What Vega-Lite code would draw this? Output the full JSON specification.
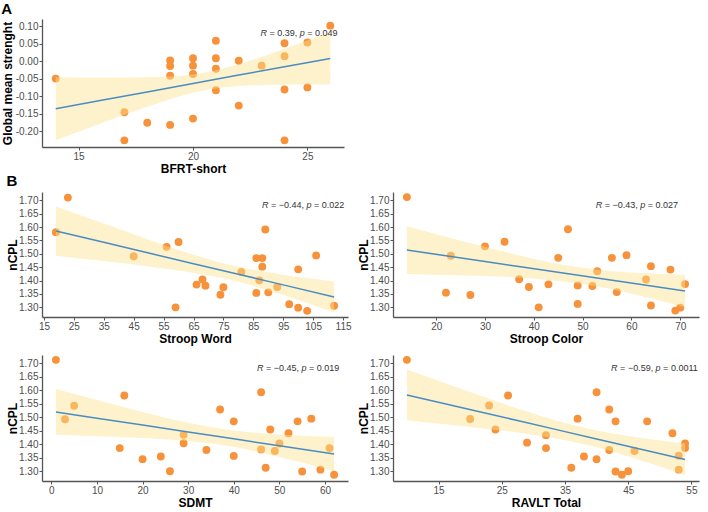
{
  "$schema": "https://vega.github.io/schema/vega-lite/v6.json",
  "padding": {"left": 1, "top": 2, "right": 2, "bottom": 2},
  "background": "white",
  "datasets": {
    "a_pts": [
      {"x":14,"y":-0.05},{"x":17,"y":-0.146},{"x":17,"y":-0.226},{"x":18,"y":-0.176},
      {"x":19,"y":0.002},{"x":19,"y":-0.014},{"x":19,"y":-0.042},{"x":19,"y":-0.182},
      {"x":20,"y":0.008},{"x":20,"y":-0.013},{"x":20,"y":-0.037},{"x":20,"y":-0.164},
      {"x":21,"y":0.058},{"x":21,"y":0.008},{"x":21,"y":-0.022},{"x":21,"y":-0.083},
      {"x":22,"y":0.001},{"x":22,"y":-0.127},{"x":23,"y":-0.013},
      {"x":24,"y":0.051},{"x":24,"y":0.014},{"x":24,"y":-0.081},{"x":24,"y":-0.226},
      {"x":25,"y":0.053},{"x":25,"y":-0.075},{"x":26,"y":0.101}
    ],
    "a_fit": [
      {"x":14,"fit":-0.136,"lo":-0.226,"hi":-0.046},
      {"x":16,"fit":-0.112,"lo":-0.177,"hi":-0.047},
      {"x":18,"fit":-0.088,"lo":-0.130,"hi":-0.046},
      {"x":20,"fit":-0.064,"lo":-0.090,"hi":-0.038},
      {"x":22,"fit":-0.040,"lo":-0.071,"hi":-0.009},
      {"x":24,"fit":-0.016,"lo":-0.067,"hi":0.035},
      {"x":26,"fit":0.0075,"lo":-0.067,"hi":0.082}
    ],
    "a_txt": [{"x":22.95,"y":0.079,"r_rest":"= 0.39,","p_rest":"= 0.049"}],
    "b1_pts": [
      {"x":19,"y":1.581},{"x":23,"y":1.71},{"x":45,"y":1.491},{"x":56,"y":1.526},
      {"x":60,"y":1.544},{"x":59,"y":1.30},{"x":66,"y":1.385},{"x":68,"y":1.404},
      {"x":69,"y":1.381},{"x":74,"y":1.347},{"x":75,"y":1.375},{"x":81,"y":1.432},
      {"x":86,"y":1.484},{"x":86,"y":1.354},{"x":87,"y":1.401},{"x":88,"y":1.484},
      {"x":88,"y":1.452},{"x":89,"y":1.591},{"x":90,"y":1.356},{"x":93,"y":1.376},
      {"x":97,"y":1.312},{"x":100,"y":1.442},{"x":100,"y":1.299},{"x":103,"y":1.287},
      {"x":106,"y":1.494},{"x":112,"y":1.306}
    ],
    "b1_fit": [
      {"x":19,"fit":1.585,"lo":1.493,"hi":1.677},
      {"x":35,"fit":1.543,"lo":1.473,"hi":1.613},
      {"x":50,"fit":1.503,"lo":1.453,"hi":1.553},
      {"x":65,"fit":1.463,"lo":1.429,"hi":1.497},
      {"x":80,"fit":1.424,"lo":1.396,"hi":1.452},
      {"x":95,"fit":1.384,"lo":1.346,"hi":1.422},
      {"x":112,"fit":1.339,"lo":1.281,"hi":1.397}
    ],
    "b1_txt": [{"x":87.9,"y":1.681,"r_rest":"= −0.44,","p_rest":"= 0.022"}],
    "b2_pts": [
      {"x":14,"y":1.712},{"x":22,"y":1.355},{"x":23,"y":1.493},{"x":27,"y":1.346},
      {"x":30,"y":1.528},{"x":34,"y":1.545},{"x":37,"y":1.405},{"x":39,"y":1.376},
      {"x":41,"y":1.30},{"x":43,"y":1.386},{"x":45,"y":1.485},{"x":47,"y":1.592},
      {"x":49,"y":1.382},{"x":49,"y":1.313},{"x":52,"y":1.380},{"x":53,"y":1.435},
      {"x":56,"y":1.485},{"x":57,"y":1.357},{"x":59,"y":1.495},{"x":63,"y":1.404},
      {"x":64,"y":1.454},{"x":64,"y":1.307},{"x":68,"y":1.441},{"x":69,"y":1.288},
      {"x":70,"y":1.299},{"x":71,"y":1.387}
    ],
    "b2_fit": [
      {"x":14,"fit":1.514,"lo":1.425,"hi":1.603},
      {"x":22,"fit":1.4925,"lo":1.421,"hi":1.564},
      {"x":30,"fit":1.471,"lo":1.417,"hi":1.526},
      {"x":38,"fit":1.450,"lo":1.410,"hi":1.490},
      {"x":46,"fit":1.428,"lo":1.397,"hi":1.459},
      {"x":54,"fit":1.407,"lo":1.375,"hi":1.439},
      {"x":62,"fit":1.385,"lo":1.342,"hi":1.428},
      {"x":71,"fit":1.361,"lo":1.300,"hi":1.422}
    ],
    "b2_txt": [{"x":52.7,"y":1.684,"r_rest":"= −0.43,","p_rest":"= 0.027"}],
    "b3_pts": [
      {"x":1,"y":1.713},{"x":3,"y":1.493},{"x":5,"y":1.543},{"x":15,"y":1.386},
      {"x":16,"y":1.581},{"x":20,"y":1.345},{"x":24,"y":1.355},{"x":26,"y":1.30},
      {"x":29,"y":1.435},{"x":29,"y":1.404},{"x":34,"y":1.379},{"x":37,"y":1.529},
      {"x":40,"y":1.485},{"x":40,"y":1.357},{"x":46,"y":1.593},{"x":46,"y":1.381},
      {"x":47,"y":1.313},{"x":48,"y":1.455},{"x":49,"y":1.375},{"x":50,"y":1.403},
      {"x":52,"y":1.441},{"x":54,"y":1.485},{"x":55,"y":1.299},{"x":57,"y":1.495},
      {"x":59,"y":1.306},{"x":61,"y":1.386},{"x":62,"y":1.287}
    ],
    "b3_fit": [
      {"x":1,"fit":1.520,"lo":1.435,"hi":1.605},
      {"x":10,"fit":1.497,"lo":1.430,"hi":1.564},
      {"x":20,"fit":1.4714,"lo":1.423,"hi":1.520},
      {"x":30,"fit":1.4458,"lo":1.412,"hi":1.480},
      {"x":40,"fit":1.4203,"lo":1.390,"hi":1.451},
      {"x":50,"fit":1.3947,"lo":1.353,"hi":1.436},
      {"x":62,"fit":1.364,"lo":1.301,"hi":1.427}
    ],
    "b3_txt": [{"x":45.1,"y":1.683,"r_rest":"= −0.45,","p_rest":"= 0.019"}],
    "b4_pts": [
      {"x":10,"y":1.713},{"x":20,"y":1.494},{"x":23,"y":1.544},{"x":24,"y":1.455},
      {"x":26,"y":1.581},{"x":29,"y":1.406},{"x":32,"y":1.434},{"x":32,"y":1.386},
      {"x":36,"y":1.313},{"x":37,"y":1.495},{"x":38,"y":1.355},{"x":40,"y":1.593},
      {"x":40,"y":1.345},{"x":42,"y":1.529},{"x":42,"y":1.379},{"x":43,"y":1.485},
      {"x":43,"y":1.299},{"x":44,"y":1.287},{"x":45,"y":1.30},{"x":46,"y":1.375},
      {"x":48,"y":1.485},{"x":52,"y":1.441},{"x":53,"y":1.358},{"x":53,"y":1.306},
      {"x":54,"y":1.403},{"x":54,"y":1.386}
    ],
    "b4_fit": [
      {"x":10,"fit":1.583,"lo":1.489,"hi":1.677},
      {"x":16,"fit":1.5504,"lo":1.474,"hi":1.627},
      {"x":22,"fit":1.5178,"lo":1.459,"hi":1.577},
      {"x":28,"fit":1.4852,"lo":1.442,"hi":1.529},
      {"x":34,"fit":1.4526,"lo":1.420,"hi":1.485},
      {"x":40,"fit":1.420,"lo":1.389,"hi":1.451},
      {"x":46,"fit":1.3874,"lo":1.348,"hi":1.427},
      {"x":54,"fit":1.344,"lo":1.285,"hi":1.403}
    ],
    "b4_txt": [{"x":42.3,"y":1.683,"r_rest":"= −0.59,","p_rest":"= 0.0011"}]
  },
  "vconcat": [
    {
      "title": {"text": "A", "offset": 2},
      "width": 302,
      "height": 128,
      "layer": [
        {"data": {"name": "a_pts"}, "mark": {"type": "circle", "size": 62, "color": "#F7923A", "opacity": 1},
         "encoding": {
           "x": {"field": "x", "type": "quantitative", "title": "BFRT-short", "scale": {"domain": [13.4, 26.6], "nice": false, "zero": false}, "axis": {"values": [15, 20, 25], "tickCount": 30, "format": "d"}},
           "y": {"field": "y", "type": "quantitative", "title": "Global mean strenght", "scale": {"domain": [-0.245, 0.12], "nice": false, "zero": false}, "axis": {"values": [-0.2, -0.15, -0.1, -0.05, 0, 0.05, 0.1], "tickCount": 30, "labelExpr": "replace(format(datum.value, '.2f'), '\u2212', '-')", "titlePadding": 1}}
         }},
        {"data": {"name": "a_fit"}, "mark": {"type": "area", "color": "#FBE38E", "opacity": 0.45, "interpolate": "monotone"},
         "encoding": {"x": {"field": "x", "type": "quantitative", "title": "BFRT-short"}, "y": {"field": "lo", "type": "quantitative", "title": "Global mean strenght"}, "y2": {"field": "hi"}}},
        {"data": {"name": "a_fit"}, "mark": {"type": "line", "color": "#4A8CC2", "strokeWidth": 1.5},
         "encoding": {"x": {"field": "x", "type": "quantitative", "title": "BFRT-short"}, "y": {"field": "fit", "type": "quantitative", "title": "Global mean strenght"}}},
        {"data": {"name": "a_txt"}, "mark": {"type": "text", "align": "left", "baseline": "middle", "fontSize": 9, "color": "#333333", "fontStyle": "italic"},
         "encoding": {"x": {"field": "x", "type": "quantitative", "title": "BFRT-short"}, "y": {"field": "y", "type": "quantitative", "title": "Global mean strenght"}, "text": {"value": "R"}}},
        {"data": {"name": "a_txt"}, "mark": {"type": "text", "align": "left", "baseline": "middle", "fontSize": 9, "color": "#333333", "dx": 9},
         "encoding": {"x": {"field": "x", "type": "quantitative", "title": "BFRT-short"}, "y": {"field": "y", "type": "quantitative", "title": "Global mean strenght"}, "text": {"field": "r_rest"}}},
        {"data": {"name": "a_txt"}, "mark": {"type": "text", "align": "left", "baseline": "middle", "fontSize": 9, "color": "#333333", "fontStyle": "italic", "dx": 39.3},
         "encoding": {"x": {"field": "x", "type": "quantitative", "title": "BFRT-short"}, "y": {"field": "y", "type": "quantitative", "title": "Global mean strenght"}, "text": {"value": "p"}}},
        {"data": {"name": "a_txt"}, "mark": {"type": "text", "align": "left", "baseline": "middle", "fontSize": 9, "color": "#333333", "dx": 46.8},
         "encoding": {"x": {"field": "x", "type": "quantitative", "title": "BFRT-short"}, "y": {"field": "y", "type": "quantitative", "title": "Global mean strenght"}, "text": {"field": "p_rest"}}}
      ]
    },
    {
      "title": {"text": "B", "offset": 3},
      "columns": 2,
      "spacing": {"row": 11, "column": 5},
      "concat": [
        {
          "width": 306, "height": 125,
          "layer": [
            {"data": {"name": "b1_pts"}, "mark": {"type": "circle", "size": 62, "color": "#F7923A", "opacity": 1},
             "encoding": {
               "x": {"field": "x", "type": "quantitative", "title": "Stroop Word", "scale": {"domain": [14.35, 116.65], "nice": false, "zero": false}, "axis": {"values": [15, 25, 35, 45, 55, 65, 75, 85, 95, 105, 115], "tickCount": 30, "format": "d"}},
               "y": {"field": "y", "type": "quantitative", "title": "nCPL", "scale": {"domain": [1.264, 1.731], "nice": false, "zero": false}, "axis": {"values": [1.3, 1.35, 1.4, 1.45, 1.5, 1.55, 1.6, 1.65, 1.7], "tickCount": 30, "format": ".2f", "titlePadding": -1}}
             }},
            {"data": {"name": "b1_fit"}, "mark": {"type": "area", "color": "#FBE38E", "opacity": 0.45, "interpolate": "monotone"},
             "encoding": {"x": {"field": "x", "type": "quantitative", "title": "Stroop Word"}, "y": {"field": "lo", "type": "quantitative", "title": "nCPL"}, "y2": {"field": "hi"}}},
            {"data": {"name": "b1_fit"}, "mark": {"type": "line", "color": "#4A8CC2", "strokeWidth": 1.5},
             "encoding": {"x": {"field": "x", "type": "quantitative", "title": "Stroop Word"}, "y": {"field": "fit", "type": "quantitative", "title": "nCPL"}}},
            {"data": {"name": "b1_txt"}, "mark": {"type": "text", "align": "left", "baseline": "middle", "fontSize": 9, "color": "#333333", "fontStyle": "italic"},
             "encoding": {"x": {"field": "x", "type": "quantitative", "title": "Stroop Word"}, "y": {"field": "y", "type": "quantitative", "title": "nCPL"}, "text": {"value": "R"}}},
            {"data": {"name": "b1_txt"}, "mark": {"type": "text", "align": "left", "baseline": "middle", "fontSize": 9, "color": "#333333", "dx": 9},
             "encoding": {"x": {"field": "x", "type": "quantitative", "title": "Stroop Word"}, "y": {"field": "y", "type": "quantitative", "title": "nCPL"}, "text": {"field": "r_rest"}}},
            {"data": {"name": "b1_txt"}, "mark": {"type": "text", "align": "left", "baseline": "middle", "fontSize": 9, "color": "#333333", "fontStyle": "italic", "dx": 44.5},
             "encoding": {"x": {"field": "x", "type": "quantitative", "title": "Stroop Word"}, "y": {"field": "y", "type": "quantitative", "title": "nCPL"}, "text": {"value": "p"}}},
            {"data": {"name": "b1_txt"}, "mark": {"type": "text", "align": "left", "baseline": "middle", "fontSize": 9, "color": "#333333", "dx": 52},
             "encoding": {"x": {"field": "x", "type": "quantitative", "title": "Stroop Word"}, "y": {"field": "y", "type": "quantitative", "title": "nCPL"}, "text": {"field": "p_rest"}}}
          ]
        },
        {
          "width": 306, "height": 125,
          "layer": [
            {"data": {"name": "b2_pts"}, "mark": {"type": "circle", "size": 62, "color": "#F7923A", "opacity": 1},
             "encoding": {
               "x": {"field": "x", "type": "quantitative", "title": "Stroop Color", "scale": {"domain": [11.15, 73.85], "nice": false, "zero": false}, "axis": {"values": [20, 30, 40, 50, 60, 70], "tickCount": 30, "format": "d"}},
               "y": {"field": "y", "type": "quantitative", "title": "nCPL", "scale": {"domain": [1.264, 1.731], "nice": false, "zero": false}, "axis": {"values": [1.3, 1.35, 1.4, 1.45, 1.5, 1.55, 1.6, 1.65, 1.7], "tickCount": 30, "format": ".2f", "titlePadding": -1}}
             }},
            {"data": {"name": "b2_fit"}, "mark": {"type": "area", "color": "#FBE38E", "opacity": 0.45, "interpolate": "monotone"},
             "encoding": {"x": {"field": "x", "type": "quantitative", "title": "Stroop Color"}, "y": {"field": "lo", "type": "quantitative", "title": "nCPL"}, "y2": {"field": "hi"}}},
            {"data": {"name": "b2_fit"}, "mark": {"type": "line", "color": "#4A8CC2", "strokeWidth": 1.5},
             "encoding": {"x": {"field": "x", "type": "quantitative", "title": "Stroop Color"}, "y": {"field": "fit", "type": "quantitative", "title": "nCPL"}}},
            {"data": {"name": "b2_txt"}, "mark": {"type": "text", "align": "left", "baseline": "middle", "fontSize": 9, "color": "#333333", "fontStyle": "italic"},
             "encoding": {"x": {"field": "x", "type": "quantitative", "title": "Stroop Color"}, "y": {"field": "y", "type": "quantitative", "title": "nCPL"}, "text": {"value": "R"}}},
            {"data": {"name": "b2_txt"}, "mark": {"type": "text", "align": "left", "baseline": "middle", "fontSize": 9, "color": "#333333", "dx": 9},
             "encoding": {"x": {"field": "x", "type": "quantitative", "title": "Stroop Color"}, "y": {"field": "y", "type": "quantitative", "title": "nCPL"}, "text": {"field": "r_rest"}}},
            {"data": {"name": "b2_txt"}, "mark": {"type": "text", "align": "left", "baseline": "middle", "fontSize": 9, "color": "#333333", "fontStyle": "italic", "dx": 44.5},
             "encoding": {"x": {"field": "x", "type": "quantitative", "title": "Stroop Color"}, "y": {"field": "y", "type": "quantitative", "title": "nCPL"}, "text": {"value": "p"}}},
            {"data": {"name": "b2_txt"}, "mark": {"type": "text", "align": "left", "baseline": "middle", "fontSize": 9, "color": "#333333", "dx": 52},
             "encoding": {"x": {"field": "x", "type": "quantitative", "title": "Stroop Color"}, "y": {"field": "y", "type": "quantitative", "title": "nCPL"}, "text": {"field": "p_rest"}}}
          ]
        },
        {
          "width": 306, "height": 126,
          "layer": [
            {"data": {"name": "b3_pts"}, "mark": {"type": "circle", "size": 62, "color": "#F7923A", "opacity": 1},
             "encoding": {
               "x": {"field": "x", "type": "quantitative", "title": "SDMT", "scale": {"domain": [-2.05, 65.05], "nice": false, "zero": false}, "axis": {"values": [0, 10, 20, 30, 40, 50, 60], "tickCount": 30, "format": "d"}},
               "y": {"field": "y", "type": "quantitative", "title": "nCPL", "scale": {"domain": [1.264, 1.731], "nice": false, "zero": false}, "axis": {"values": [1.3, 1.35, 1.4, 1.45, 1.5, 1.55, 1.6, 1.65, 1.7], "tickCount": 30, "format": ".2f", "titlePadding": -1}}
             }},
            {"data": {"name": "b3_fit"}, "mark": {"type": "area", "color": "#FBE38E", "opacity": 0.45, "interpolate": "monotone"},
             "encoding": {"x": {"field": "x", "type": "quantitative", "title": "SDMT"}, "y": {"field": "lo", "type": "quantitative", "title": "nCPL"}, "y2": {"field": "hi"}}},
            {"data": {"name": "b3_fit"}, "mark": {"type": "line", "color": "#4A8CC2", "strokeWidth": 1.5},
             "encoding": {"x": {"field": "x", "type": "quantitative", "title": "SDMT"}, "y": {"field": "fit", "type": "quantitative", "title": "nCPL"}}},
            {"data": {"name": "b3_txt"}, "mark": {"type": "text", "align": "left", "baseline": "middle", "fontSize": 9, "color": "#333333", "fontStyle": "italic"},
             "encoding": {"x": {"field": "x", "type": "quantitative", "title": "SDMT"}, "y": {"field": "y", "type": "quantitative", "title": "nCPL"}, "text": {"value": "R"}}},
            {"data": {"name": "b3_txt"}, "mark": {"type": "text", "align": "left", "baseline": "middle", "fontSize": 9, "color": "#333333", "dx": 9},
             "encoding": {"x": {"field": "x", "type": "quantitative", "title": "SDMT"}, "y": {"field": "y", "type": "quantitative", "title": "nCPL"}, "text": {"field": "r_rest"}}},
            {"data": {"name": "b3_txt"}, "mark": {"type": "text", "align": "left", "baseline": "middle", "fontSize": 9, "color": "#333333", "fontStyle": "italic", "dx": 44.5},
             "encoding": {"x": {"field": "x", "type": "quantitative", "title": "SDMT"}, "y": {"field": "y", "type": "quantitative", "title": "nCPL"}, "text": {"value": "p"}}},
            {"data": {"name": "b3_txt"}, "mark": {"type": "text", "align": "left", "baseline": "middle", "fontSize": 9, "color": "#333333", "dx": 52},
             "encoding": {"x": {"field": "x", "type": "quantitative", "title": "SDMT"}, "y": {"field": "y", "type": "quantitative", "title": "nCPL"}, "text": {"field": "p_rest"}}}
          ]
        },
        {
          "width": 306, "height": 126,
          "layer": [
            {"data": {"name": "b4_pts"}, "mark": {"type": "circle", "size": 62, "color": "#F7923A", "opacity": 1},
             "encoding": {
               "x": {"field": "x", "type": "quantitative", "title": "RAVLT Total", "scale": {"domain": [7.8, 56.2], "nice": false, "zero": false}, "axis": {"values": [15, 25, 35, 45, 55], "tickCount": 30, "format": "d"}},
               "y": {"field": "y", "type": "quantitative", "title": "nCPL", "scale": {"domain": [1.264, 1.731], "nice": false, "zero": false}, "axis": {"values": [1.3, 1.35, 1.4, 1.45, 1.5, 1.55, 1.6, 1.65, 1.7], "tickCount": 30, "format": ".2f", "titlePadding": -1}}
             }},
            {"data": {"name": "b4_fit"}, "mark": {"type": "area", "color": "#FBE38E", "opacity": 0.45, "interpolate": "monotone"},
             "encoding": {"x": {"field": "x", "type": "quantitative", "title": "RAVLT Total"}, "y": {"field": "lo", "type": "quantitative", "title": "nCPL"}, "y2": {"field": "hi"}}},
            {"data": {"name": "b4_fit"}, "mark": {"type": "line", "color": "#4A8CC2", "strokeWidth": 1.5},
             "encoding": {"x": {"field": "x", "type": "quantitative", "title": "RAVLT Total"}, "y": {"field": "fit", "type": "quantitative", "title": "nCPL"}}},
            {"data": {"name": "b4_txt"}, "mark": {"type": "text", "align": "left", "baseline": "middle", "fontSize": 9, "color": "#333333", "fontStyle": "italic"},
             "encoding": {"x": {"field": "x", "type": "quantitative", "title": "RAVLT Total"}, "y": {"field": "y", "type": "quantitative", "title": "nCPL"}, "text": {"value": "R"}}},
            {"data": {"name": "b4_txt"}, "mark": {"type": "text", "align": "left", "baseline": "middle", "fontSize": 9, "color": "#333333", "dx": 9},
             "encoding": {"x": {"field": "x", "type": "quantitative", "title": "RAVLT Total"}, "y": {"field": "y", "type": "quantitative", "title": "nCPL"}, "text": {"field": "r_rest"}}},
            {"data": {"name": "b4_txt"}, "mark": {"type": "text", "align": "left", "baseline": "middle", "fontSize": 9, "color": "#333333", "fontStyle": "italic", "dx": 44.5},
             "encoding": {"x": {"field": "x", "type": "quantitative", "title": "RAVLT Total"}, "y": {"field": "y", "type": "quantitative", "title": "nCPL"}, "text": {"value": "p"}}},
            {"data": {"name": "b4_txt"}, "mark": {"type": "text", "align": "left", "baseline": "middle", "fontSize": 9, "color": "#333333", "dx": 52},
             "encoding": {"x": {"field": "x", "type": "quantitative", "title": "RAVLT Total"}, "y": {"field": "y", "type": "quantitative", "title": "nCPL"}, "text": {"field": "p_rest"}}}
          ]
        }
      ]
    }
  ],
  "spacing": 0,
  "align": "none",
  "config": {
    "font": "Liberation Sans",
    "view": {"stroke": null},
    "axis": {
      "grid": false,
      "domainColor": "#555555",
      "domainWidth": 1.3,
      "tickColor": "#555555",
      "tickSize": 3,
      "labelFontSize": 10,
      "labelColor": "#4D4D4D",
      "labelPadding": 1,
      "labelFlush": false,
      "labelOverlap": false,
      "titleFontSize": 12,
      "titleFontWeight": "bold",
      "titleColor": "#000000",
      "titlePadding": 2,
      "labelFont": "Liberation Sans",
      "titleFont": "Liberation Sans"
    },
    "title": {"fontSize": 15, "fontWeight": "bold", "anchor": "start", "color": "#000000", "font": "Liberation Sans"},
    "text": {"font": "Liberation Sans"}
  }
}
